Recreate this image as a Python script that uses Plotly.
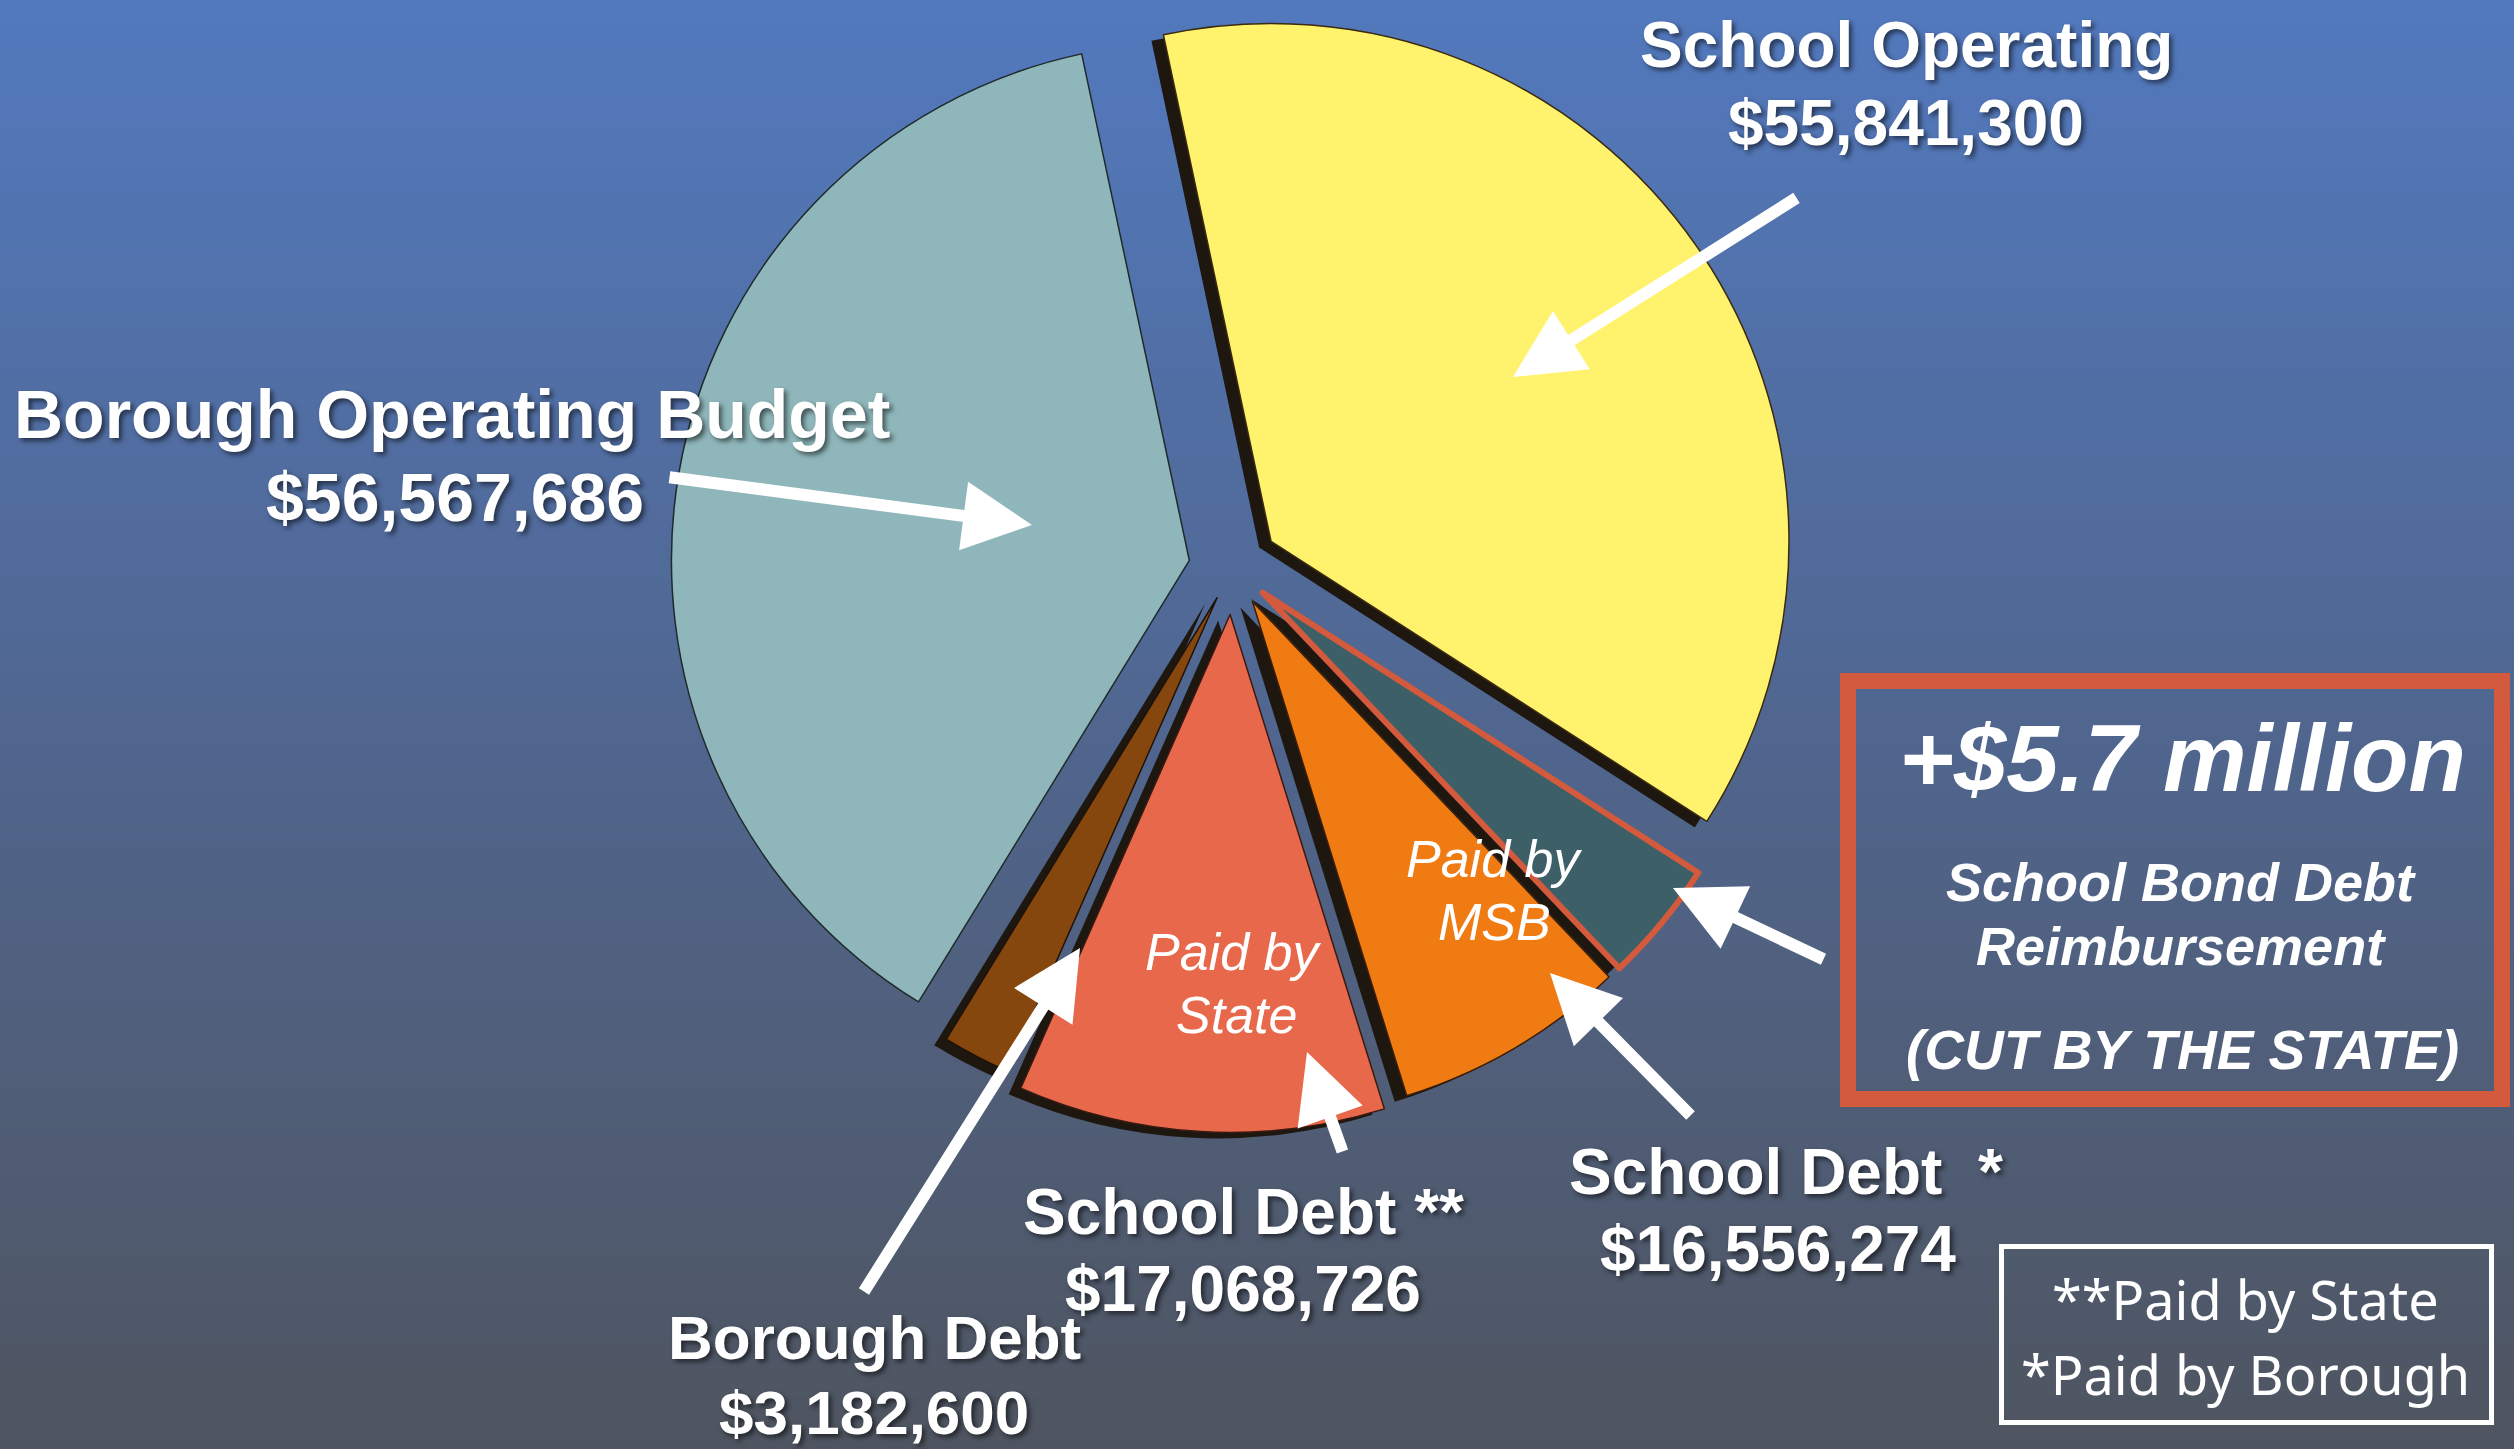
import plotly.graph_objects as go

# ---------------- data ----------------
categories = [
    "School Operating",
    "Borough Operating Budget",
    "Borough Debt",
    "School Debt (Paid by State)",
    "School Debt (Paid by MSB)",
    "School Bond Debt Reimbursement (Cut by the State)",
]
values = [55841300, 56567686, 3182600, 17068726, 10856274, 5700000]
value_labels = ["$55,841,300", "$56,567,686", "$3,182,600", "$17,068,726", "$16,556,274"]
label_titles = ["School Operating", "Borough Operating Budget", "Borough Debt",
                "School Debt **", "School Debt  *"]
slice_colors = ["#FFF26C", "#8FB7BB", "#86470E", "#E8684C", "#F07B13", "#3D5F67"]
shadow_colors = ["#1E1710", "rgba(0,0,0,0)", "#1E1710", "#1E1710", "#1E1710", "#1E1710"]
pulls = [0.09, 0.085, 0.065, 0.09, 0.075, 0.075]
line_colors = ["#3a2a10", "#1f2a2a", "#1e1208", "#3a1a10", "#3a1e08", "#D35A3C"]
line_widths = [1.5, 1.5, 1.5, 1.5, 1.5, 6]

W, H = 2514, 1449
WHITE = "white"
SHADOW = "3px 3px 5px rgba(0,0,0,0.55)"

fig = go.Figure()

# background gradient
fig.add_trace(go.Heatmap(
    x=[0, W], y=[0, H * 0.5, H], z=[[0, 0], [0.5, 0.5], [1, 1]],
    colorscale=[[0, "#5279BE"], [0.5, "#50668F"], [1, "#4F5560"]],
    zsmooth="best", showscale=False, hoverinfo="skip",
))

dom_x = [0.2658, 0.7149]
dom_y = [0.2184, 0.9977]
dx = 12 / W
dy = 6 / H

# extrusion / side shadow
fig.add_trace(go.Pie(
    labels=categories, values=values, sort=False, direction="counterclockwise",
    rotation=-12, pull=pulls, textinfo="none", hoverinfo="skip",
    marker=dict(colors=shadow_colors, line=dict(width=0)),
    domain=dict(x=[dom_x[0] - dx, dom_x[1] - dx], y=[dom_y[0] - dy, dom_y[1] - dy]),
    showlegend=False,
))

fig.add_trace(go.Pie(
    labels=categories, values=values, sort=False, direction="counterclockwise",
    rotation=-12, pull=pulls, textinfo="none",
    marker=dict(colors=slice_colors, line=dict(color=line_colors, width=line_widths)),
    domain=dict(x=dom_x, y=dom_y),
    showlegend=False,
))

ann = []

def txt(x, y, text, size, bold=True, italic=False, family="Liberation Sans, Arial, sans-serif", shadow=SHADOW):
    ann.append(dict(
        x=x, y=y, xref="x", yref="y", text=text, showarrow=False,
        xanchor="center", yanchor="middle",
        font=dict(size=size, color=WHITE, family=family,
                  weight="bold" if bold else "normal",
                  style="italic" if italic else "normal", shadow=shadow),
    ))

def arrow(tail, tip):
    ann.append(dict(
        x=tip[0], y=tip[1], ax=tail[0], ay=tail[1],
        xref="x", yref="y", axref="x", ayref="y",
        text="", showarrow=True, arrowhead=2, arrowsize=1.15, arrowwidth=12,
        arrowcolor=WHITE, standoff=0,
    ))

# main labels
txt(452, 414, label_titles[1], 68)
txt(455, 497, value_labels[1], 68)
txt(1906, 45, label_titles[0], 64)
txt(1906, 123, value_labels[0], 64)
txt(1243, 1212, label_titles[3], 64)
txt(1243, 1289, value_labels[3], 64)
txt(874, 1337, label_titles[2], 62)
txt(874, 1412, value_labels[2], 62)
txt(1786, 1172, label_titles[4], 64)
txt(1778, 1249, value_labels[4], 64)

# in-slice notes
txt(1233, 952, "Paid by", 52, bold=False, italic=True, shadow="none")
txt(1236, 1015, "State", 52, bold=False, italic=True, shadow="none")
txt(1494, 859, "Paid by", 52, bold=False, italic=True, shadow="none")
txt(1494, 922, "MSB", 52, bold=False, italic=True, shadow="none")

# callout box text
txt(2182, 758, "+$5.7 million", 94, italic=True, shadow="none")
txt(2181, 882, "School Bond Debt", 54, italic=True, shadow="none")
txt(2181, 946, "Reimbursement", 54, italic=True, shadow="none")
txt(2182, 1050, "(CUT BY THE STATE)", 55, italic=True, shadow="none")

# footnote legend
txt(2245, 1299, "**Paid by State", 54, bold=False, family="Noto Sans, sans-serif", shadow="none")
txt(2245, 1374, "*Paid by Borough", 54, bold=False, family="Noto Sans, sans-serif", shadow="none")

# arrows
arrow((1798, 197), (1513, 377))
arrow((668, 477), (1032, 525))
arrow((863, 1293), (1080, 948))
arrow((1343, 1153), (1307, 1052))
arrow((1692, 1117), (1550, 973))
arrow((1825, 960), (1673, 888))

shapes = [
    dict(type="rect", xref="x", yref="y", x0=1848, x1=2502, y0=681, y1=1099,
         line=dict(color="#D35A3C", width=16), fillcolor="rgba(0,0,0,0)"),
    dict(type="rect", xref="x", yref="y", x0=2001.5, x1=2491.5, y0=1246.5, y1=1422.5,
         line=dict(color="white", width=5), fillcolor="rgba(0,0,0,0)"),
]

fig.update_layout(
    width=W, height=H, margin=dict(l=0, r=0, t=0, b=0),
    paper_bgcolor="#50668F", plot_bgcolor="#50668F",
    xaxis=dict(range=[0, W], visible=False, fixedrange=True),
    yaxis=dict(range=[H, 0], visible=False, fixedrange=True),
    annotations=ann, shapes=shapes, showlegend=False,
)

fig.write_html(
    "out.html",
    config={"displayModeBar": False},
    post_script="document.body.style.margin='0';document.body.style.overflow='hidden';",
)
